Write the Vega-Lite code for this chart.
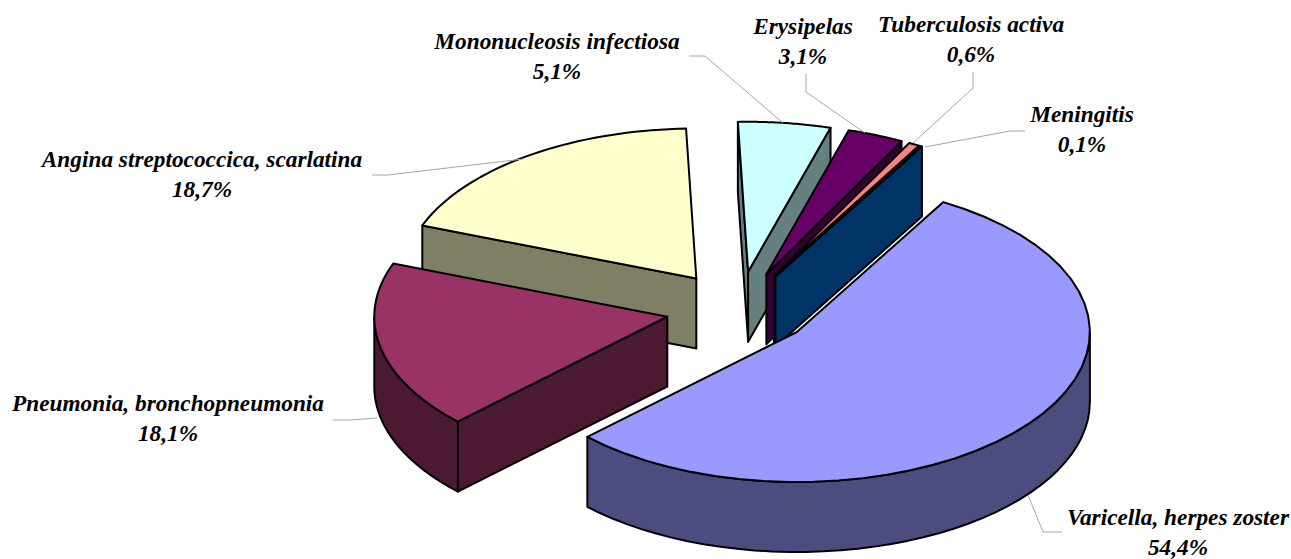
{
"$schema":"https://vega.github.io/schema/vega-lite/v6.json",
"width":1291,"height":559,"padding":0,
"autosize":{"type":"none"},
"background":"white",
"view":{"stroke":null},
"data":{"values":[
{"pos":2,"name":"Angina streptococcica, scarlatina","value":18.7},
{"pos":1,"name":"Pneumonia, bronchopneumonia","value":18.1},
{"pos":3,"name":"Mononucleosis infectiosa","value":5.1},
{"pos":4,"name":"Erysipelas","value":3.1},
{"pos":5,"name":"Tuberculosis activa","value":0.6},
{"pos":6,"name":"Meningitis","value":0.1},
{"pos":0,"name":"Varicella, herpes zoster","value":54.4}
]},
"layer":[
{
"transform":[
{"joinaggregate":[{"op":"sum","field":"value","as":"total"}]},
{"window":[{"op":"sum","field":"value","as":"cum"}],"sort":[{"field":"pos","order":"ascending"}]},
{"calculate":"(30+360*datum.cum/datum.total)*PI/180","as":"t1"},
{"calculate":"datum.t1-2*PI*datum.value/datum.total","as":"t0"},
{"calculate":"(datum.t0+datum.t1)/2","as":"mid"},
{"calculate":"max(datum.t0,PI/2)","as":"o0"},
{"calculate":"min(datum.t1,3*PI/2)","as":"o1"},
{"calculate":"['wallA','wallB','outer','top']","as":"parts"},
{"flatten":["parts"],"as":["part"]},
{"filter":"datum.part=='top'||(datum.part=='wallA'&&sin(datum.t0)<0)||(datum.part=='wallB'&&sin(datum.t1)>0)||(datum.part=='outer'&&datum.o1>datum.o0)"},
{"calculate":"[0,1,2,3,4,5,6,7,8,9,10,11,12,13,14,15,16,17,18,19,20,21,22,23,24,25,26,27,28,29,30,31,32,33,34,35,36,37,38,39,40,41,42,43,44,45,46,47,48,49,50,51,52,53,54,55,56,57,58,59,60,61,62,63,64,65,66,67,68,69,70,71,72,73,74,75,76,77,78,79,80,81]","as":"vs"},
{"flatten":["vs"],"as":["v"]},
{"filter":"datum.part=='outer'||(datum.part=='top'&&datum.v<=41)||datum.v<=3"},
{"calculate":"datum.part=='wallA'?datum.t0:datum.part=='wallB'?datum.t1:datum.part=='outer'?datum.o0+(datum.o1-datum.o0)*(datum.v<=40?datum.v/40:(81-datum.v)/40):datum.t0+(datum.t1-datum.t0)*datum.v/40","as":"t"},
{"calculate":"datum.part=='outer'?1:datum.part=='top'?(datum.v<=40?1:0):((datum.v==1||datum.v==2)?1:0)","as":"r"},
{"calculate":"datum.part=='outer'?(datum.v>40?1:0):datum.part=='top'?0:(datum.v>=2?1:0)","as":"dz"},
{"calculate":"739+0.25*293*sin(datum.mid)+datum.r*293*sin(datum.t)","as":"px"},
{"calculate":"309-0.25*150*cos(datum.mid)-datum.r*150*cos(datum.t)+datum.dz*70","as":"py"},
{"calculate":"datum.name+(datum.part=='top'?' top':' side')","as":"face"},
{"calculate":"datum.name+' '+datum.part","as":"poly"}
],
"mark":{"type":"line","interpolate":"linear-closed","stroke":"black","strokeWidth":2,"strokeJoin":"round"},
"encoding":{
"x":{"field":"px","type":"quantitative","scale":{"domain":[0,1291],"nice":false,"zero":false},"axis":null},
"y":{"field":"py","type":"quantitative","scale":{"domain":[0,559],"reverse":true,"nice":false,"zero":false},"axis":null},
"order":{"field":"v","type":"quantitative"},
"detail":{"field":"poly","type":"nominal"},
"fill":{"field":"face","type":"nominal","legend":null,"scale":{
"domain":["Varicella, herpes zoster top","Varicella, herpes zoster side","Pneumonia, bronchopneumonia top","Pneumonia, bronchopneumonia side","Angina streptococcica, scarlatina top","Angina streptococcica, scarlatina side","Mononucleosis infectiosa top","Mononucleosis infectiosa side","Erysipelas top","Erysipelas side","Tuberculosis activa top","Tuberculosis activa side","Meningitis top","Meningitis side"],
"range":["#9999FF","#4C4C7F","#993366","#4C1933","#FFFFCC","#7F7F66","#CCFFFF","#667F7F","#660066","#330033","#FF8080","#7F4040","#0066CC","#003366"]}}
}
},
{
"transform":[
{"calculate":"[0,1,2]","as":"vs"},
{"flatten":["vs"],"as":["v"]},
{"calculate":"[[[1062,532],[1043,532],[1028,495]],[[333,420],[350,420],[377,418]],[[372,175],[388,175],[523,159]],[[689,56],[705,56],[783,123]],[[806,74],[806,92],[865,133]],[[973,72],[973,88],[913,143]],[[1025,131],[1010,131],[925,147]]][datum.pos][datum.v]","as":"pt"},
{"calculate":"datum.pt[0]","as":"px"},
{"calculate":"datum.pt[1]","as":"py"}
],
"mark":{"type":"line","stroke":"#a6a6a6","strokeWidth":1},
"encoding":{
"x":{"field":"px","type":"quantitative","scale":{"domain":[0,1291],"nice":false,"zero":false},"axis":null},
"y":{"field":"py","type":"quantitative","scale":{"domain":[0,559],"reverse":true,"nice":false,"zero":false},"axis":null},
"order":{"field":"v","type":"quantitative"},
"detail":{"field":"name","type":"nominal"}
}
},
{
"transform":[
{"calculate":"datum.name+'\\n'+replace(format(datum.value,'.1f'),'.',',')+'%'","as":"label"},
{"calculate":"[[1178,518],[168,404],[202,160],[557,42],[803,27],[971,25],[1082,115]][datum.pos]","as":"pt"},
{"calculate":"datum.pt[0]","as":"px"},
{"calculate":"datum.pt[1]","as":"py"}
],
"mark":{"type":"text","font":"Liberation Serif","fontSize":23.3,"fontWeight":"bold","fontStyle":"italic","fill":"black","align":"center","baseline":"middle","lineBreak":"\n","lineHeight":30},
"encoding":{
"x":{"field":"px","type":"quantitative","scale":{"domain":[0,1291],"nice":false,"zero":false},"axis":null},
"y":{"field":"py","type":"quantitative","scale":{"domain":[0,559],"reverse":true,"nice":false,"zero":false},"axis":null},
"text":{"field":"label","type":"nominal"}
}
}
]
}
